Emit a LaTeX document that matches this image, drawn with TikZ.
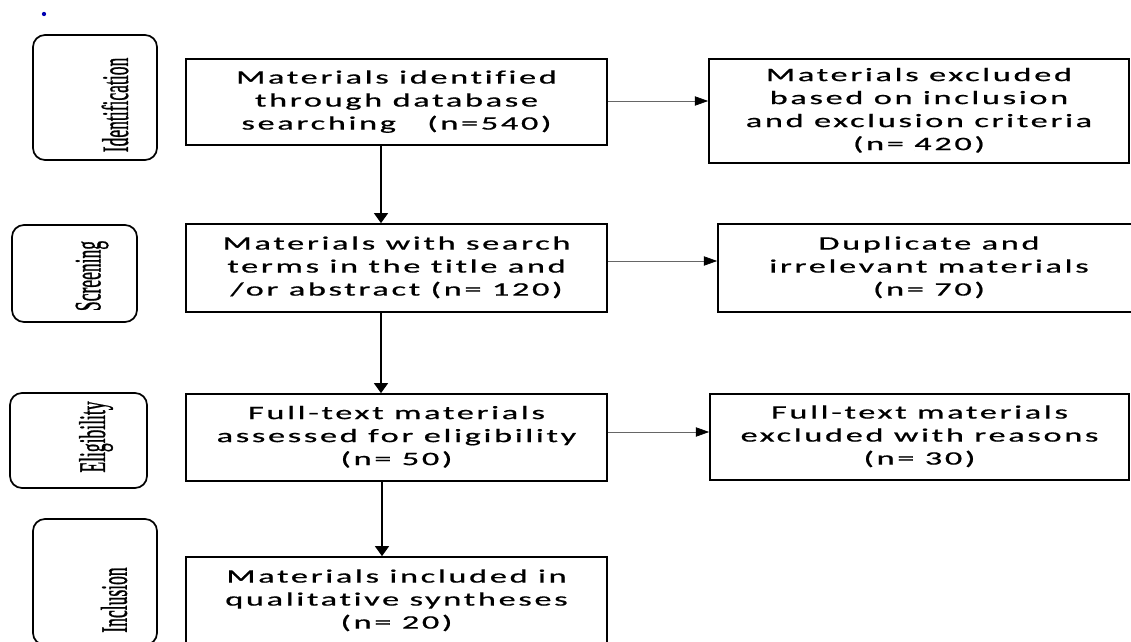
\documentclass[tikz,border=0pt]{standalone}
\usepackage{fontspec}
\usepackage{graphicx}
\usetikzlibrary{arrows.meta}
\newfontfamily\bxf[LetterSpace=8, Ligatures=CommonOff, FakeBold=0.6]{Carlito}
\newfontfamily\lbf[FakeBold=1.2]{Liberation Serif}
\newcommand{\bt}[1]{\scalebox{1.8}[1]{\bxf\fontsize{14.25}{17.25}\selectfont\begin{tabular}{@{}c@{}}#1\end{tabular}}}
\newcommand{\lt}[1]{\scalebox{0.47}[1]{\lbf\fontsize{28}{30}\selectfont #1}}
\begin{document}
\begin{tikzpicture}[x=0.75pt,y=-0.75pt,
  mainbox/.style={draw, line width=1.3pt, inner sep=0pt, fill=white},
  stagebox/.style={draw, line width=1.3pt, rounded corners=9pt, inner sep=0pt},
  stagetext/.style={rotate=90, inner sep=0pt, text=black},
  varrow/.style={line width=1pt, -{Triangle[width=10.5pt, length=7.5pt]}},
  harrow/.style={line width=0.5pt, draw=black!60, -{Triangle[width=7pt, length=10pt, color=black]}}]
\useasboundingbox (0,0) rectangle (1131,642);
\clip (0,0) rectangle (1131,642);
\fill[white] (0,0) rectangle (1131,642);

% small blue mark
\fill[blue!70!black] (44,14) circle [radius=1.6pt];

% stage boxes
\node[stagebox, minimum width=124*0.75pt, minimum height=125*0.75pt] (sid) at (95,97.5) {};
\node[stagetext] (tid) at (115,105) {\lt{Identification}};
\node[stagebox, minimum width=125*0.75pt, minimum height=97*0.75pt] (ssc) at (74.5,273.5) {};
\node[stagetext] (tsc) at (92,276) {\lt{Screening}};
\node[stagebox, minimum width=137*0.75pt, minimum height=95*0.75pt] (sel) at (78.5,440.5) {};
\node[stagetext] (tel) at (96,437) {\lt{Eligibility}};
\node[stagebox, minimum width=124*0.75pt, minimum height=126*0.75pt] (sin) at (95,582) {};
\node[stagetext] (tin) at (114,600) {\lt{Inclusion}};

% main column
\node[mainbox, minimum width=421*0.75pt, minimum height=86*0.75pt] (b1) at (396.5,102)
  {\bt{Materials identified\\through database\\searching~~~(n=540)}};
\node[mainbox, minimum width=421*0.75pt, minimum height=88*0.75pt] (b2) at (396.5,268)
  {\bt{Materials with search\\terms in the title and\\/or abstract (n= 120)}};
\node[mainbox, minimum width=421*0.75pt, minimum height=87*0.75pt] (b3) at (396.5,437.5)
  {\bt{Full-text materials\\assessed for eligibility\\(n= 50)}};
\node[mainbox, minimum width=421*0.75pt, minimum height=88*0.75pt] (b4) at (396.5,601)
  {\bt{Materials included in\\qualitative syntheses\\(n= 20)}};

% right column
\node[mainbox, minimum width=420*0.75pt, minimum height=104*0.75pt] (r1) at (919,111)
  {\bt{Materials excluded\\based on inclusion\\and exclusion criteria\\(n= 420)}};
\node[mainbox, minimum width=422*0.75pt, minimum height=88*0.75pt] (r2) at (929,268)
  {\bt{Duplicate and\\irrelevant materials\\(n= 70)}};
\node[mainbox, minimum width=419*0.75pt, minimum height=86*0.75pt] (r3) at (919.5,437)
  {\bt{Full-text materials\\excluded with reasons\\(n= 30)}};

% connectors
\coordinate (v1) at (381,0);
\coordinate (v3) at (382,0);
\coordinate (h1) at (0,101);
\coordinate (h2) at (0,261);
\coordinate (h3) at (0,432);
\draw[varrow] (b1.south -| v1) -- (b2.north -| v1);
\draw[varrow] (b2.south -| v1) -- (b3.north -| v1);
\draw[varrow] (b3.south -| v3) -- (b4.north -| v3);
\draw[harrow] (b1.east |- h1) -- (r1.west |- h1);
\draw[harrow] (b2.east |- h2) -- (r2.west |- h2);
\draw[harrow] (b3.east |- h3) -- (r3.west |- h3);
\end{tikzpicture}
\end{document}
